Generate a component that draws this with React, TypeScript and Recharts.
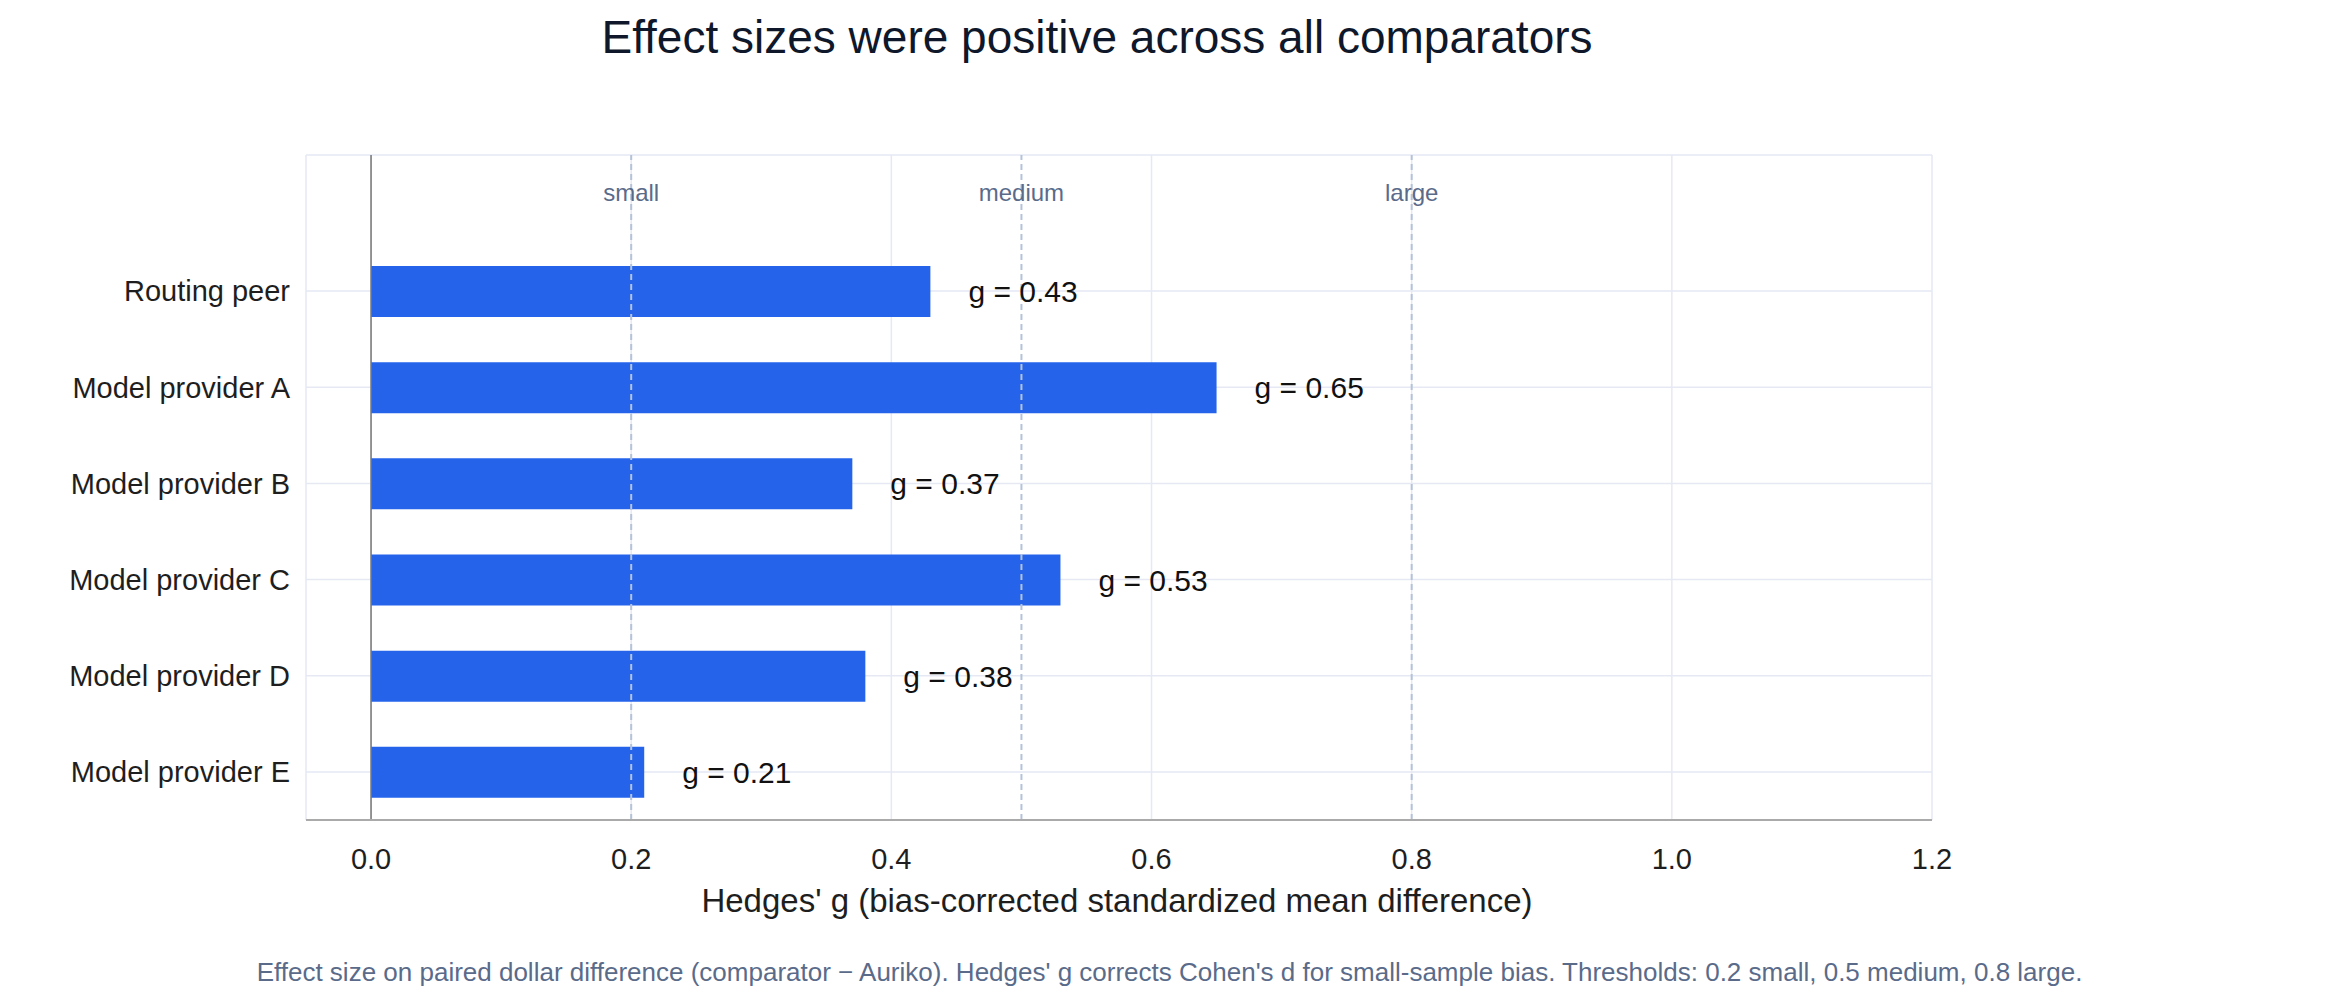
import { BarChart, Bar, XAxis, YAxis, CartesianGrid, ReferenceLine, LabelList } from "recharts";

const comparators = ["Routing peer", "Model provider A", "Model provider B", "Model provider C", "Model provider D", "Model provider E"];
const hedgesG = [0.43, 0.65, 0.37, 0.53, 0.38, 0.21];
const xTicks = [0, 0.2, 0.4, 0.6, 0.8, 1.0, 1.2];
const thresholds = [
	{ value: 0.2, label: "small" },
	{ value: 0.5, label: "medium" },
	{ value: 0.8, label: "large" },
];

const data = comparators.map((name, i) => ({ name, g: hedgesG[i] }));
const FONT = "'Liberation Sans', Arial, sans-serif";

export default function App() {
	return (
		<div style={{ position: "absolute", left: 0, top: 0, width: 2339, height: 1007, background: "#fff", fontFamily: FONT }}>
			<div style={{ position: "absolute", top: 10, left: 0, width: 2194, textAlign: "center", fontSize: 46, color: "#0f172a" }}>
				Effect sizes were positive across all comparators
			</div>
			<BarChart width={2339} height={1007} data={data} layout="vertical" margin={{ top: 155, right: 407, left: 0, bottom: 127 }}>
				<CartesianGrid stroke="#e6e9f4" strokeWidth={1.5} />
				<XAxis type="number" domain={[-0.05, 1.2]} ticks={xTicks} allowDataOverflow
					tickFormatter={(v: any) => Number(v).toFixed(1)} tickLine={false} height={60}
					axisLine={{ stroke: "#aaa", strokeWidth: 2 }} tickMargin={22}
					tick={{ fontSize: 29, fill: "#1e1e1e", fontFamily: FONT }} />
				<YAxis type="category" dataKey="name" width={306} axisLine={false} tickLine={false}
					padding={{ top: 88, bottom: 0 }} tickMargin={10}
					tick={{ fontSize: 29, fill: "#1e1e1e", fontFamily: FONT }} />
				<ReferenceLine x={0} stroke="#777" strokeWidth={1.5} />
				{thresholds.map(t => (
					<ReferenceLine key={t.label} x={t.value} stroke="#b4c3d8" strokeWidth={2} strokeDasharray="6 4"
						label={(p: any) => (
							<text x={p.viewBox.x} y={p.viewBox.y + 46} textAnchor="middle" fontSize={24} fill="#5a6b8a" fontFamily={FONT}>{t.label}</text>
						)} />
				))}
				<Bar dataKey="g" fill="#2563eb" barSize={51} isAnimationActive={false}>
					<LabelList dataKey="g" position="right" offset={38} fontSize={30} fill="#111"
						formatter={(v: any) => `g = ${Number(v).toFixed(2)}`} />
				</Bar>
			</BarChart>
			<div style={{ position: "absolute", top: 882, left: 0, width: 2234, textAlign: "center", fontSize: 33, color: "#1e1e1e" }}>
				Hedges' g (bias-corrected standardized mean difference)
			</div>
			<div style={{ position: "absolute", top: 957, left: 0, width: 2339, textAlign: "center", fontSize: 26, color: "#5a6b8a" }}>
				Effect size on paired dollar difference (comparator − Auriko). Hedges' g corrects Cohen's d for small-sample bias. Thresholds: 0.2 small, 0.5 medium, 0.8 large.
			</div>
		</div>
	);
}
